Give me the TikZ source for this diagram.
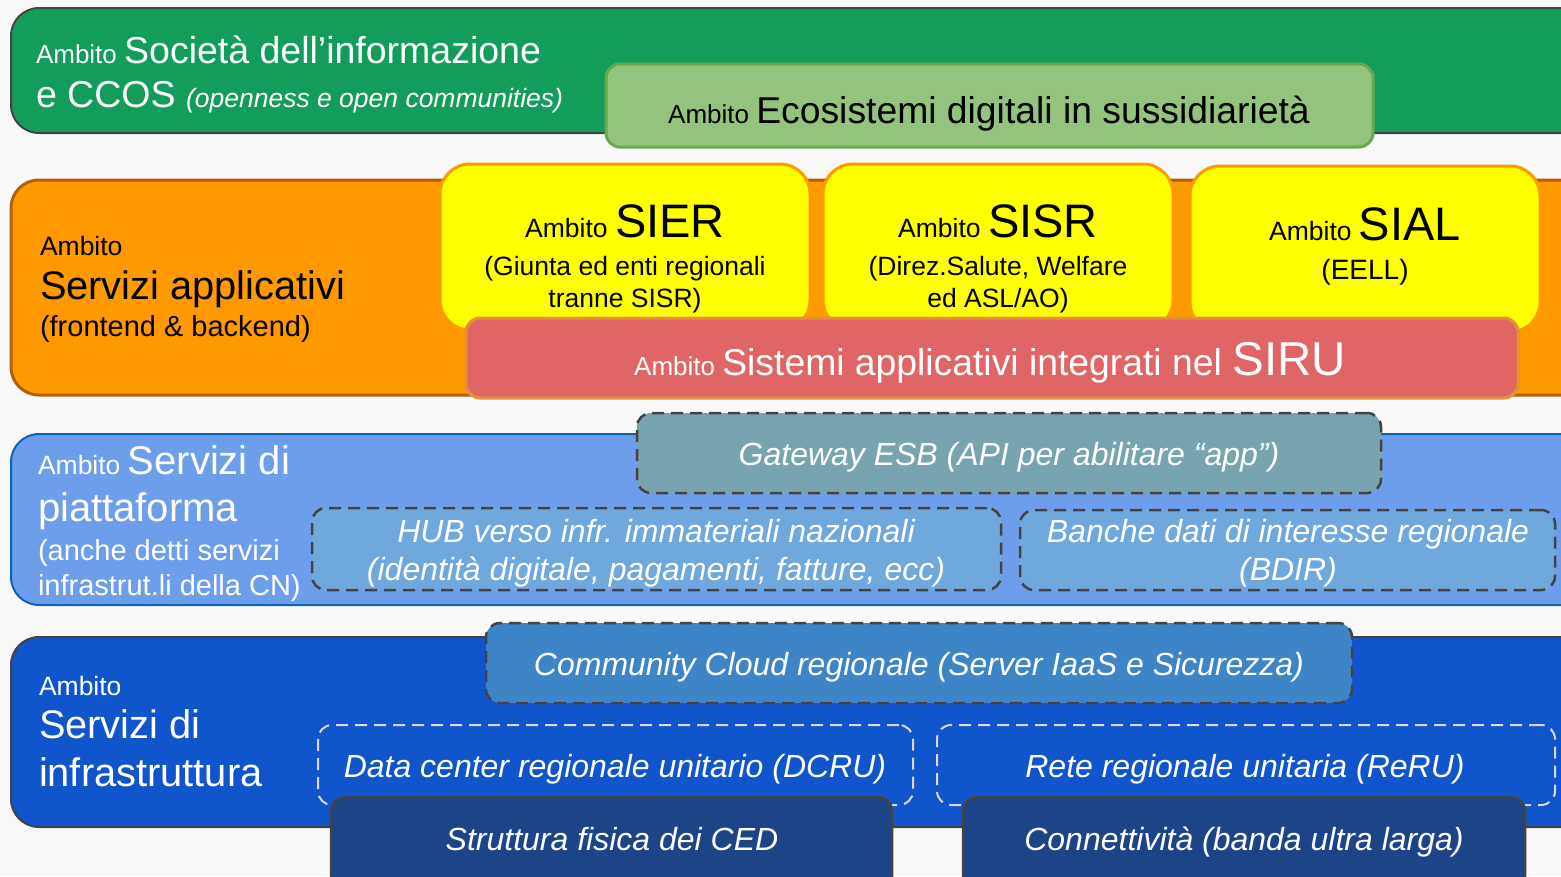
\documentclass[tikz,border=0pt]{standalone}
\usepackage{fontspec}
\setmainfont{Liberation Sans}
\newcommand\myfs[1]{\fontsize{#1}{#1}\selectfont}
\definecolor{bg}{RGB}{249,249,249}
\definecolor{grn}{RGB}{18,158,90}
\definecolor{edgegrey}{RGB}{67,67,67}
\definecolor{lgrn}{RGB}{147,196,125}
\definecolor{lgrnedge}{RGB}{106,168,79}
\definecolor{orng}{RGB}{255,153,0}
\definecolor{orngedge}{RGB}{180,95,6}
\definecolor{yel}{RGB}{255,255,0}
\definecolor{redf}{RGB}{224,102,102}
\definecolor{rededge}{RGB}{230,145,56}
\definecolor{lblue}{RGB}{109,158,235}
\definecolor{lblueedge}{RGB}{11,100,180}
\definecolor{gwfill}{RGB}{118,165,175}
\definecolor{hubfill}{RGB}{111,168,220}
\definecolor{dblue}{RGB}{17,85,204}
\definecolor{ccfill}{RGB}{61,133,198}
\definecolor{ltdash}{RGB}{217,217,217}
\definecolor{navy}{RGB}{28,69,135}
\begin{document}
\begin{tikzpicture}[x=1pt,y=-1pt,
  every node/.style={inner sep=0pt,outer sep=0pt},
  band/.style={draw,rounded corners=28pt,line width=2pt,anchor=north west},
  boxs/.style={draw,rounded corners=14pt,line width=2.5pt,anchor=north west},
  yelbox/.style={boxs,rounded corners=30pt,fill=yel,draw=orng,line width=3pt},
  dashbox/.style={boxs,dash pattern=on 12pt off 7pt,draw=edgegrey},
  ltbox/.style={boxs,dash pattern=on 12pt off 7pt,draw=ltdash,line width=2pt},
  navybox/.style={boxs,fill=navy,draw=edgegrey},
  wt/.style={text=white,anchor=base west},
  bt/.style={text=black,anchor=base west},
  wc/.style={text=white,anchor=base},
  bc/.style={text=black,anchor=base},
  it/.style={font=\myfs{32}\itshape}
]
\useasboundingbox (0,0) rectangle (1561,876);
\fill[bg] (0,0) rectangle (1561,876);
\clip (0,0) rectangle (1561,876);

% ---- Layer 1: green
\node[band,fill=grn,draw=edgegrey,minimum width=1600pt,minimum height=125pt] (green) at (11,8) {};
\node[boxs,fill=lgrn,draw=lgrnedge,line width=3pt,minimum width=767pt,minimum height=83pt] (eco) at (606,64) {};
\node[wt] (g1) at (36,63) {\myfs{26}Ambito \myfs{37.5}Società dell’informazione};
\node[wt] (g2) at (36,107) {\myfs{37.5}e CCOS \myfs{26.5}\itshape(openness e open communities)};
\node[bc] (ecot) at (989,123) {\myfs{26}Ambito \myfs{37.3}Ecosistemi digitali in sussidiarietà};

% ---- Layer 2: orange
\node[band,fill=orng,draw=orngedge,line width=3pt,minimum width=1600pt,minimum height=215pt] (orange) at (11,180) {};
\node[bt] (o1) at (40,255) {\myfs{26.5}Ambito};
\node[bt] (o2) at (40,299) {\myfs{39.8}Servizi applicativi};
\node[bt] (o3) at (40,336) {\myfs{29}(frontend \& backend)};
\node[yelbox,minimum width=370pt,minimum height=166pt] (sier) at (440,164) {};
\node[yelbox,minimum width=350pt,minimum height=166pt] (sisr) at (823,164) {};
\node[yelbox,minimum width=350pt,minimum height=166pt] (sial) at (1190,166) {};
\node[bc] (s1) at (625,237) {\myfs{26.5}Ambito \myfs{47}SIER};
\node[bc] (s2) at (625,275) {\myfs{26.5}(Giunta ed enti regionali};
\node[bc] (s3) at (625,307) {\myfs{26.5}tranne SISR)};
\node[bc] (r1) at (998,237) {\myfs{26.5}Ambito \myfs{47}SISR};
\node[bc] (r2) at (998,275) {\myfs{26.5}(Direz.Salute, Welfare};
\node[bc] (r3) at (998,307) {\myfs{26.5}ed ASL/AO)};
\node[bc] (a1) at (1365,240) {\myfs{26.5}Ambito \myfs{47}SIAL};
\node[bc] (a2) at (1365,279) {\myfs{28}(EELL)};
\node[boxs,fill=redf,draw=rededge,line width=3pt,minimum width=1052pt,minimum height=80pt] (siru) at (466,318) {};
\node[wc] (sirut) at (990,375) {\myfs{26}Ambito \myfs{37.3}Sistemi applicativi integrati nel \myfs{47.5}SIRU};

% ---- Layer 3: light blue
\node[band,fill=lblue,draw=lblueedge,minimum width=1600pt,minimum height=171pt] (lb) at (11,434) {};
\node[wt] (l1) at (38,474) {\myfs{26.5}Ambito \myfs{40}Servizi di};
\node[wt] (l2) at (38,521) {\myfs{40}piattaforma};
\node[wt] (l3) at (38,560) {\myfs{29}(anche detti servizi};
\node[wt] (l4) at (38,595) {\myfs{29}infrastrut.li della CN)};
\node[dashbox,fill=gwfill,minimum width=744pt,minimum height=80pt] (gw) at (637,413) {};
\node[wc,it] (gwt) at (1009,465) {Gateway ESB (API per abilitare “app”)};
\node[dashbox,fill=hubfill,minimum width=689pt,minimum height=82pt] (hub) at (312,508) {};
\node[wc,it] (h1) at (656,542) {HUB verso infr. immateriali nazionali};
\node[wc,it] (h2) at (656,580) {(identità digitale, pagamenti, fatture, ecc)};
\node[dashbox,fill=hubfill,minimum width=535pt,minimum height=80pt] (bdir) at (1020,510) {};
\node[wc,it] (b1) at (1288,542) {Banche dati di interesse regionale};
\node[wc,it] (b2) at (1288,580) {(BDIR)};

% ---- Layer 4: dark blue
\node[band,fill=dblue,draw=edgegrey,minimum width=1600pt,minimum height=190pt] (db) at (11,637) {};
\node[wt] (d1) at (39,695) {\myfs{26.5}Ambito};
\node[wt] (d2) at (39,738) {\myfs{39.8}Servizi di};
\node[wt] (d3) at (39,786) {\myfs{39.8}infrastruttura};
\node[dashbox,fill=ccfill,minimum width=866pt,minimum height=80pt] (cc) at (486,623) {};
\node[wc,it] (cct) at (919,675) {Community Cloud regionale (Server IaaS e Sicurezza)};
\node[ltbox,minimum width=595pt,minimum height=80pt] (dcru) at (318,725) {};
\node[wc,it] (dcrut) at (615,777) {Data center regionale unitario (DCRU)};
\node[ltbox,minimum width=618pt,minimum height=80pt] (reru) at (937,725) {};
\node[wc,it] (rerut) at (1245,777) {Rete regionale unitaria (ReRU)};
\node[navybox,minimum width=561pt,minimum height=110pt] (ced) at (331,797) {};
\node[wc,it] (cedt) at (612,850) {Struttura fisica dei CED};
\node[navybox,minimum width=562pt,minimum height=110pt] (bul) at (963,797) {};
\node[wc,it] (bult) at (1244,850) {Connettività (banda ultra larga)};
\end{tikzpicture}
\end{document}
